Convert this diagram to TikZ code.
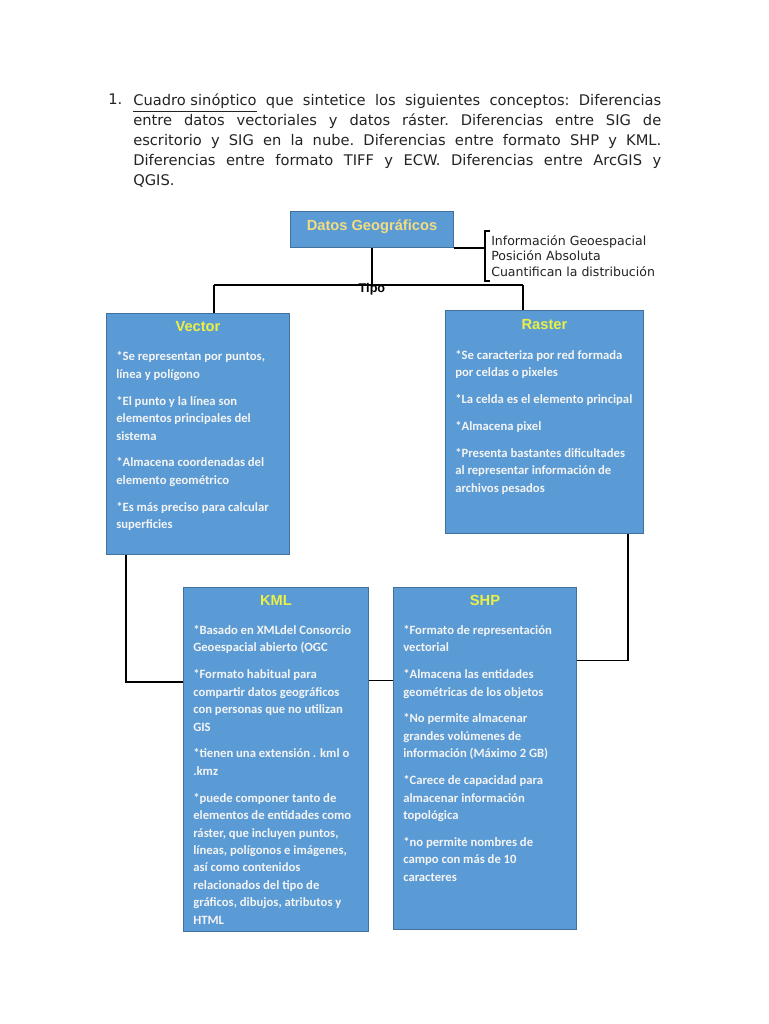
\documentclass[tikz,border=0pt]{standalone}
\usepackage{fontspec}
\usepackage{xcolor}
\usepackage{tikz}
\usetikzlibrary{positioning}
\newfontfamily\verd{DejaVu Sans}
\newfontfamily\calib{Carlito}
\newfontfamily\arial{Liberation Sans}
\definecolor{boxblue}{RGB}{91,155,213}
\definecolor{boxline}{RGB}{65,113,156}
\definecolor{titleyel}{RGB}{235,240,70}
\definecolor{dgyel}{RGB}{242,220,130}
\definecolor{bodywhite}{RGB}{244,244,244}
\definecolor{headgray}{RGB}{35,35,35}
\newcommand{\jrow}[1]{\leavevmode\hbox to 396pt{\spaceskip=0.32em plus 1fil\xspaceskip=0.32em plus 1fil\relax #1}}
\tikzset{
    box/.style={
        draw = boxline, fill = boxblue,
        line width = 0.7pt,
        anchor = north west,
        inner sep = 0pt
    },
    title/.style = {
        font = \arial\bfseries\fontsize{11}{13}\selectfont,
        text = titleyel, inner sep = 0pt
    },
    body/.style = {
        font = \calib\bfseries\fontsize{9.5}{13.1}\selectfont,
        text = bodywhite, align = left, inner sep = 0pt
    },
    line/.style = {line width = 1.1pt}
}

\begin{document}
\begin{tikzpicture}[x=0.75pt, y=-0.75pt]
    \fill[white] (0,0) rectangle (768,1024);
    \useasboundingbox (0,0) rectangle (768,1024);

    % Heading
    \node[anchor=north west, inner sep=0pt, text=headgray,
        font=\verd\fontsize{11}{15}\selectfont] (num) at (108,94) {1.};
    \node[anchor=north west, inner sep=0pt, text=headgray, text width=396pt, align=left,
        font=\verd\fontsize{11}{15}\selectfont] (head) at (133,94) {%
        \jrow{\underline{Cuadro sinóptico} que sintetice los siguientes conceptos: Diferencias}\\
        \jrow{entre datos vectoriales y datos ráster. Diferencias entre SIG de}\\
        \jrow{escritorio y SIG en la nube. Diferencias entre formato SHP y KML.}\\
        \jrow{Diferencias entre formato TIFF y ECW. Diferencias entre ArcGIS y}\\
        QGIS.};

    % Blocks
    \node[box, minimum width=122.25pt, minimum height=27pt] (dg) at (290,211) {};
    \node[inner sep=0pt, text=dgyel, yshift=2pt,
        font=\arial\bfseries\fontsize{11}{13}\selectfont] (dgT) at (dg.center) {Datos Geográficos};
    \node[anchor=west, inner sep=0pt, inner ysep=3pt, text=headgray, align=left,
        font=\verd\fontsize{9.4}{11.6}\selectfont] (info) at (491,256)
        {Información Geoespacial\\ Posición Absoluta\\ Cuantifican la distribución};

    \node[box, minimum width=137.25pt, minimum height=180.75pt] (vec) at (106,313) {};
    \node[title, below = 6pt of vec.north] (vecT) {Vector};
    \node[body, below right = 29pt and 7.5pt of vec.north west] (vecB) {%
        *Se representan por puntos,\\ línea y polígono\\[7pt]
        *El punto y la línea son\\ elementos principales del\\ sistema\\[7pt]
        *Almacena coordenadas del\\ elemento geométrico\\[7pt]
        *Es más preciso para calcular\\ superficies};

    \node[box, minimum width=148.5pt, minimum height=167.25pt] (ras) at (445,310) {};
    \node[title, below = 6.5pt of ras.north] (rasT) {Raster};
    \node[body, below right = 30pt and 7.5pt of ras.north west] (rasB) {%
        *Se caracteriza por red formada\\ por celdas o pixeles\\[7pt]
        *La celda es el elemento principal\\[7pt]
        *Almacena pixel\\[7pt]
        *Presenta bastantes dificultades\\ al representar información de\\ archivos pesados};

    \node[box, minimum width=138.75pt, minimum height=258pt] (kml) at (183,587) {};
    \node[title, below = 6pt of kml.north] (kmlT) {KML};
    \node[body, below right = 28.5pt and 7.5pt of kml.north west] (kmlB) {%
        *Basado en XMLdel Consorcio\\ Geoespacial abierto (OGC\\[7pt]
        *Formato habitual para\\ compartir datos geográficos\\ con personas que no utilizan\\ GIS\\[7pt]
        *tienen una extensión . kml o\\ .kmz\\[7pt]
        *puede componer tanto de\\ elementos de entidades como\\ ráster, que incluyen puntos,\\
        líneas, polígonos e imágenes,\\ así como contenidos\\ relacionados del tipo de\\
        gráficos, dibujos, atributos y\\ HTML};

    \node[box, minimum width=137.25pt, minimum height=256.5pt] (shp) at (393,587) {};
    \node[title, below = 6pt of shp.north] (shpT) {SHP};
    \node[body, below right = 28.5pt and 7.5pt of shp.north west] (shpB) {%
        *Formato de representación\\ vectorial\\[7pt]
        *Almacena las entidades\\ geométricas de los objetos\\[7pt]
        *No permite almacenar\\ grandes volúmenes de\\ información (Máximo 2 GB)\\[7pt]
        *Carece de capacidad para\\ almacenar información\\ topológica\\[7pt]
        *no permite nombres de\\ campo con más de 10\\ caracteres};

    % Lines
    \coordinate (jL) at (214,285);
    \coordinate (jR) at (523,285);
    \node[anchor=north, inner sep=0pt, yshift=1.5pt,
        font=\arial\bfseries\fontsize{9.5}{10}\selectfont] (tipo) at (dg.south |- jL) {Tipo};
    \draw[line] (dg.south) -- (dg.south |- jL);
    \draw[line] (jL) -- (jR);
    \draw[line] (jL) -- (jL |- vec.north);
    \draw[line] (jR) -- (jR |- ras.north);

    \draw[line, line width=0.9pt] (dg.south east) -- ([xshift=-5.5pt]dg.south east -| info.west);
    \draw[line width=1.5pt] ([xshift=-0.5pt]info.north west) -- ++(-5,0) coordinate (bt)
        -- (bt |- info.south) -- ([xshift=-0.5pt]info.south west);

    \draw[line] ([xshift=15pt]vec.south west) |- ([yshift=-71.25pt]kml.north west);
    \draw[line] ([yshift=-70pt]kml.north east) -- ([yshift=-70pt]shp.north west);
    \draw[line] ([xshift=-12pt]ras.south east) |- ([yshift=-55pt]shp.north east);
\end{tikzpicture}
\end{document}
